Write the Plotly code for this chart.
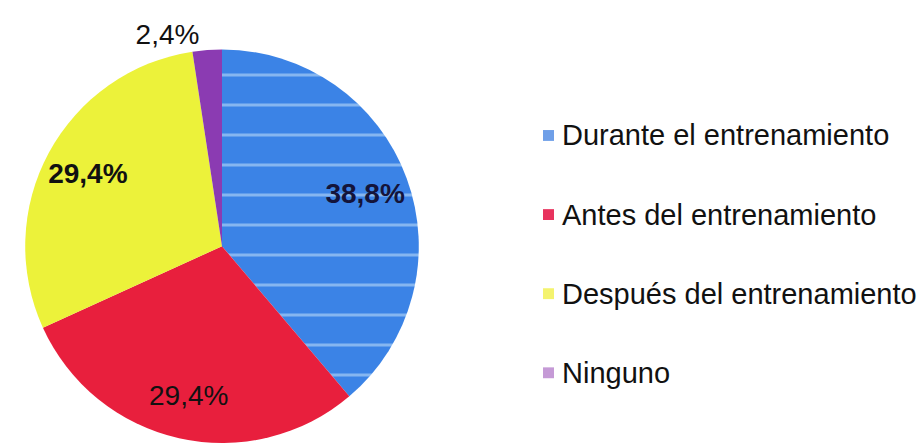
import plotly.graph_objects as go

# Momento de consumo: categorías y porcentajes
labels = ["Durante el entrenamiento", "Antes del entrenamiento",
          "Después del entrenamiento", "Ninguno"]
values = [38.8, 29.4, 29.4, 2.4]

slice_colors = ["#3b83e6", "#e81f3d", "#ecf23a", "#8b3bb2"]
key_colors = ["#6f9fe8", "#e8335e", "#f4f36e", "#c59ad6"]
label_colors = ["#14143a", "#111111", "#111111", "#111111"]
label_weights = [700, 400, 700, 400]
label_positions = ["inside", "inside", "inside", "outside"]

FONT = "Liberation Sans, Arial, sans-serif"
PIE_DOMAIN = dict(x=[22 / 924, 422 / 924], y=[0, 1 - 50 / 448])

fig = go.Figure()

# Sectores
fig.add_trace(go.Pie(
    labels=labels,
    values=values,
    sort=False,
    direction="clockwise",
    rotation=0,
    marker=dict(
        colors=slice_colors,
        line=dict(width=0),
        pattern=dict(shape=["-", "", "", ""], fillmode="overlay",
                     fgcolor="#93bff3", fgopacity=0.85,
                     size=30, solidity=0.1),
    ),
    textinfo="none",
    hoverinfo="label+percent",
    showlegend=False,
    domain=PIE_DOMAIN,
))

# Etiquetas de porcentaje: anillo transparente para situarlas
# hacia el borde exterior de cada sector
fig.add_trace(go.Pie(
    labels=labels,
    values=values,
    sort=False,
    direction="clockwise",
    rotation=0,
    hole=0.55,
    marker=dict(colors=["rgba(0,0,0,0)"] * len(values), line=dict(width=0)),
    texttemplate="%{percent:.1%}",
    textposition=label_positions,
    insidetextorientation="horizontal",
    textfont=dict(family=FONT, size=28, color=label_colors,
                  weight=label_weights),
    hoverinfo="skip",
    showlegend=False,
    domain=PIE_DOMAIN,
))

# Leyenda a la derecha: cuadrito de color + texto
legend_top = 137
legend_step = 80
for i, (lab, col) in enumerate(zip(labels, key_colors)):
    yc = legend_top + i * legend_step
    fig.add_shape(type="rect", xref="paper", yref="paper",
                  x0=543 / 924, x1=554 / 924,
                  y0=1 - (yc + 5.5) / 448, y1=1 - (yc - 5.5) / 448,
                  fillcolor=col, line=dict(width=0))
    fig.add_annotation(xref="paper", yref="paper",
                       x=560 / 924, y=1 - yc / 448,
                       xanchor="left", yanchor="middle",
                       text=lab, showarrow=False,
                       font=dict(family=FONT, size=29, color="#111111"))

fig.update_layout(
    width=924, height=448,
    margin=dict(l=0, r=0, t=0, b=0),
    paper_bgcolor="white",
    plot_bgcolor="white",
    separators=",.",
    showlegend=False,
)

fig.write_html("out.html")
